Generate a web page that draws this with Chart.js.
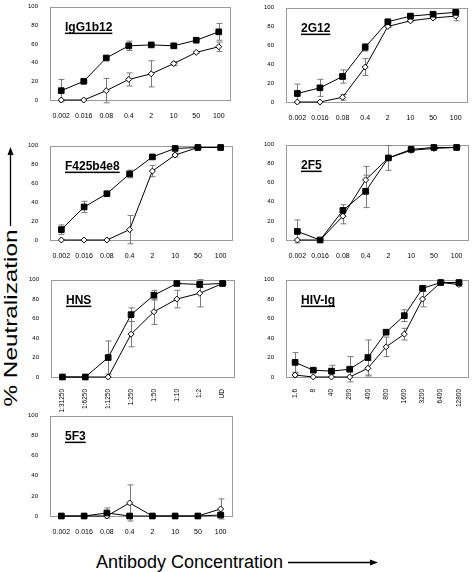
<!DOCTYPE html>
<html>
<head>
<meta charset="utf-8">
<script src="https://cdn.jsdelivr.net/npm/chart.js@4.4.0/dist/chart.umd.min.js"></script>
<style>
  body { margin: 0; background: #fff; width: 472px; height: 572px; position: relative; overflow: hidden;
         font-family: Arial, "Liberation Sans", sans-serif; }
  .panel { position: absolute; }
  .axtitle { position: absolute; white-space: nowrap; color: #000; line-height: 1; }
  svg { position: absolute; left: 0; top: 0; }
</style>
</head>
<body>

<div id="ytitle" class="axtitle">% Neutralization</div>
<div id="xtitle" class="axtitle">Antibody Concentration</div>
<svg width="472" height="572">
  <line x1="10.5" y1="226" x2="10.5" y2="154" stroke="#000" stroke-width="1.3"/>
  <polygon points="10.5,147 7.5,155 13.5,155" fill="#000"/>
  <line x1="288" y1="562.5" x2="371" y2="562.5" stroke="#000" stroke-width="1.3"/>
  <polygon points="378,562.5 370,559.5 370,565.5" fill="#000"/>
</svg>

<script>
// x categories
const concLabels = ['0.002', '0.016', '0.08', '0.4', '2', '10', '50', '100'];
const hnsLabels = ['1:31250', '1:6250', '1:1250', '1:250', '1:50', '1:10', '1:2', 'UD'];
const hivLabels = ['1.6', '8', '40', '200', '400', '800', '1600', '3200', '6400', '12800'];
const yTicks = [0, 20, 40, 60, 80, 100];

// IgG1b12
const b12Filled = [10, 20, 45, 58, 59, 58, 64, 73];
const b12FilledErr = [12, 1, 1, 5, 1, 2, 1, 9];
const b12Open = [0, 0, 10, 22, 28, 39, 51, 57];
const b12OpenErr = [0, 0, 13, 7, 14, 2, 1, 5];

// 2G12
const g12Filled = [9, 15, 27, 58, 85, 91, 93, 95];
const g12FilledErr = [10, 9, 7, 4, 1, 1, 1, 1];
const g12Open = [0, 0, 5, 37, 80, 86, 89, 91];
const g12OpenErr = [0, 0, 3, 9, 1, 1, 1, 5];

// F425b4e8
const f425Filled = [11, 35, 49, 70, 88, 97, 98, 98];
const f425FilledErr = [5, 6, 1, 4, 1, 1, 1, 0];
const f425Open = [0, 0, 0, 11, 73, 90, 98, 98];
const f425OpenErr = [0, 0, 0, 15, 6, 2, 1, 0];

// 2F5
const f5Filled = [9, 0, 31, 51, 86, 95, 97, 97];
const f5FilledErr = [12, 0, 6, 17, 13, 1, 1, 1];
const f5Open = [0, 0, 25, 63, 86, 94, 96, 97];
const f5OpenErr = [0, 0, 8, 14, 1, 1, 1, 1];

// HNS
const hnsFilled = [0, 0, 20, 64, 84, 96, 95, 96];
const hnsFilledErr = [0, 0, 17, 7, 5, 1, 3, 1];
const hnsOpen = [0, 0, 0, 44, 67, 80, 86, 96];
const hnsOpenErr = [0, 0, 0, 13, 13, 9, 14, 1];

// HIV-Ig
const hivFilled = [15, 7, 6, 8, 20, 46, 63, 91, 97, 97];
const hivFilledErr = [10, 1, 6, 13, 18, 1, 6, 3, 1, 1];
const hivOpen = [2, 0, 0, 0, 9, 31, 44, 80, 97, 95];
const hivOpenErr = [2, 0, 0, 0, 8, 10, 6, 8, 1, 2];

// 5F3
const f3Filled = [0, 0, 3, 0, 0, 0, 0, 1];
const f3FilledErr = [0, 0, 5, 0, 0, 0, 0, 1];
const f3Open = [0, 0, 0, 13, 0, 0, 0, 7];
const f3OpenErr = [0, 0, 0, 18, 0, 0, 0, 10];

Chart.defaults.font.family = 'Arial, "Liberation Sans", sans-serif';
Chart.defaults.color = '#000';

// axis titles (the y one is stretched along its length in the original)
const yt = document.getElementById('ytitle');
yt.style.fontSize = '19px';
yt.style.left = '10px'; yt.style.top = '318px';
yt.style.transform = 'translate(-50%, -50%) rotate(-90deg) scaleX(1.28)';
const xt = document.getElementById('xtitle');
xt.style.fontSize = '18px';
xt.style.left = '96px'; xt.style.top = '553px';

// gray box round the plot area + error bars under the marks + panel title
const errorBars = {
  id: 'errorBars',
  beforeDatasetsDraw(chart) {
    const { ctx, chartArea: a, scales: { y } } = chart;
    ctx.save();
    ctx.strokeStyle = '#9a9a9a';
    ctx.lineWidth = 1;
    ctx.strokeRect(Math.round(a.left) + 0.5, Math.round(a.top) + 0.5,
      Math.round(a.right - a.left), Math.round(a.bottom - a.top));
    ctx.strokeStyle = '#7a7a7a';
    chart.data.datasets.forEach((ds, i) => {
      const meta = chart.getDatasetMeta(i);
      (ds.errors || []).forEach((e, j) => {
        if (!e) return;
        const x = Math.round(meta.data[j].x) + 0.5;
        const yTop = y.getPixelForValue(ds.data[j] + e);
        const yBot = y.getPixelForValue(ds.data[j] - e);
        ctx.beginPath();
        ctx.moveTo(x, yTop); ctx.lineTo(x, yBot);
        ctx.moveTo(x - 3, yTop); ctx.lineTo(x + 3, yTop);
        ctx.moveTo(x - 3, yBot); ctx.lineTo(x + 3, yBot);
        ctx.stroke();
      });
    });
    ctx.restore();
  },
  afterDraw(chart, args, opts) {
    const { ctx, chartArea: a } = chart;
    ctx.save();
    ctx.font = 'bold 12px Arial, "Liberation Sans", sans-serif';
    ctx.fillStyle = '#000';
    const x = a.left + 15, y = a.top + 24;
    ctx.fillText(opts.text, x, y);
    const w = ctx.measureText(opts.text).width;
    ctx.fillRect(x, y + 2, w, 1.5);
    ctx.restore();
  }
};

function makePanel(p) {
  const xh = p.rotate ? 40 : 18;
  const div = document.createElement('div');
  div.className = 'panel';
  div.style.left = (p.L - 30) + 'px';
  div.style.top = (p.T - 5) + 'px';
  const cv = document.createElement('canvas');
  cv.width = p.R - p.L + 35;
  cv.height = p.B - p.T + 5 + xh;
  cv.style.width = cv.width + 'px';
  cv.style.height = cv.height + 'px';
  div.appendChild(cv);
  document.body.appendChild(div);

  new Chart(cv, {
    type: 'line',
    data: {
      labels: p.labels,
      datasets: [{
        data: p.filled, errors: p.filledErr,
        borderColor: '#000', borderWidth: 1, tension: 0, clip: false,
        pointStyle: 'rect', pointRadius: 4, pointBackgroundColor: '#000',
        pointBorderColor: '#000', pointBorderWidth: 1
      }, {
        data: p.open, errors: p.openErr,
        borderColor: '#000', borderWidth: 1, tension: 0, clip: false,
        pointStyle: 'rectRot', pointRadius: 3, pointBackgroundColor: '#fff',
        pointBorderColor: '#000', pointBorderWidth: 1
      }]
    },
    options: {
      responsive: false,
      devicePixelRatio: 1,
      animation: false,
      events: [],
      layout: { padding: { left: 0, right: 5, top: 5, bottom: 0 } },
      plugins: {
        legend: { display: false },
        tooltip: { enabled: false },
        errorBars: { text: p.title }
      },
      scales: {
        x: {
          type: 'category',
          offset: true,
          grid: { display: false },
          border: { display: false },
          ticks: {
            font: { size: p.rotate ? 6.5 : 7 },
            padding: 4,
            autoSkip: false,
            minRotation: p.rotate ? 90 : 0,
            maxRotation: p.rotate ? 90 : 0
          },
          afterFit: s => { s.height = xh; }
        },
        y: {
          min: 0, max: 100,
          grid: { display: false },
          border: { display: false },
          afterBuildTicks: s => { s.ticks = yTicks.map(v => ({ value: v })); },
          ticks: { font: { size: 6 }, padding: 4 },
          afterFit: s => { s.width = 30; }
        }
      }
    },
    plugins: [errorBars]
  });
}

makePanel({ title: 'IgG1b12', L: 50, T: 4, R: 230, B: 100, labels: concLabels,
  filled: b12Filled, filledErr: b12FilledErr, open: b12Open, openErr: b12OpenErr });
makePanel({ title: '2G12', L: 286, T: 5, R: 467, B: 102, labels: concLabels,
  filled: g12Filled, filledErr: g12FilledErr, open: g12Open, openErr: g12OpenErr });
makePanel({ title: 'F425b4e8', L: 50, T: 143, R: 232, B: 240, labels: concLabels,
  filled: f425Filled, filledErr: f425FilledErr, open: f425Open, openErr: f425OpenErr });
makePanel({ title: '2F5', L: 286, T: 142, R: 468, B: 240, labels: concLabels,
  filled: f5Filled, filledErr: f5FilledErr, open: f5Open, openErr: f5OpenErr });
makePanel({ title: 'HNS', L: 51, T: 277, R: 234, B: 377, labels: hnsLabels, rotate: true,
  filled: hnsFilled, filledErr: hnsFilledErr, open: hnsOpen, openErr: hnsOpenErr });
makePanel({ title: 'HIV-Ig', L: 286, T: 277, R: 468, B: 377, labels: hivLabels, rotate: true,
  filled: hivFilled, filledErr: hivFilledErr, open: hivOpen, openErr: hivOpenErr });
makePanel({ title: '5F3', L: 50, T: 413, R: 232, B: 516, labels: concLabels,
  filled: f3Filled, filledErr: f3FilledErr, open: f3Open, openErr: f3OpenErr });
</script>
</body>
</html>
